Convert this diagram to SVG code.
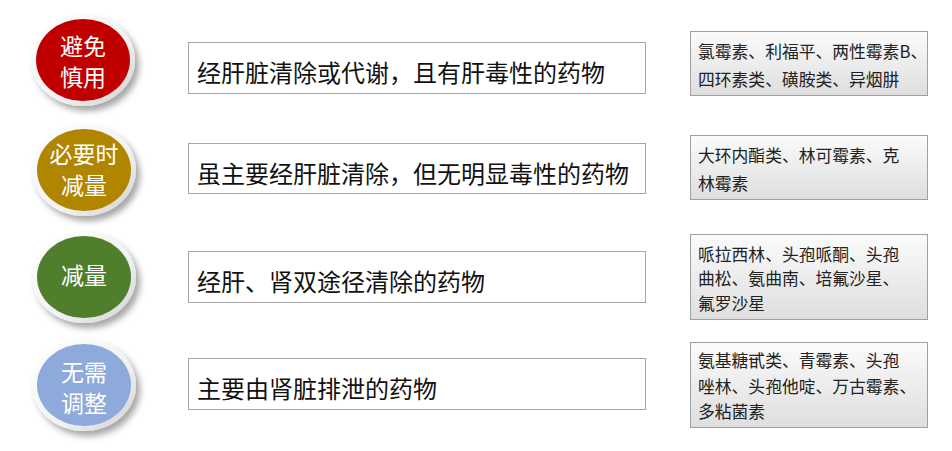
<svg xmlns="http://www.w3.org/2000/svg" width="952" height="451" viewBox="0 0 952 451">
<style>
.ct{font-family:"Noto Sans CJK SC","Noto Sans",sans-serif;font-size:23px;fill:#fff;text-anchor:middle;dominant-baseline:central}
.mb{fill:#fff;stroke:#a6a6a6;stroke-width:1}
.mt{font-family:"Noto Sans CJK SC","Noto Sans",sans-serif;font-size:24px;fill:#111;dominant-baseline:central}
.rb{fill:url(#rg);stroke:#a0a0a0;stroke-width:1}
.rt{font-family:"Noto Sans CJK SC","Noto Sans",sans-serif;font-size:16.8px;fill:#222;dominant-baseline:central}
.ring{fill:url(#ringg);filter:url(#sh)}
</style>
<defs>
<linearGradient id="rg" x1="0" y1="0" x2="0" y2="1"><stop offset="0" stop-color="#fbfbfb"/><stop offset="1" stop-color="#dedede"/></linearGradient>
<linearGradient id="ringg" x1="0" y1="0" x2="1" y2="1"><stop offset="0" stop-color="#ffffff"/><stop offset="0.6" stop-color="#f2f2f2"/><stop offset="1" stop-color="#d0d0d0"/></linearGradient>
<filter id="sh" x="-30%" y="-30%" width="170%" height="170%"><feDropShadow dx="4" dy="5" stdDeviation="3" flood-color="#000" flood-opacity="0.35"/></filter>
</defs>
<g id="n1">
<ellipse class="ring" cx="83" cy="60" rx="52" ry="46"/>
<ellipse cx="83" cy="60" rx="47" ry="41" fill="#c00000"/>
<text class="ct" x="83" y="45">避免</text>
<text class="ct" x="83" y="76">慎用</text>
</g>
<g id="n2">
<ellipse class="ring" cx="84" cy="170" rx="52" ry="46"/>
<ellipse cx="84" cy="170" rx="47" ry="41" fill="#b08500"/>
<text class="ct" x="84" y="153">必要时</text>
<text class="ct" x="84" y="184">减量</text>
</g>
<g id="n3">
<ellipse class="ring" cx="84" cy="277" rx="52" ry="46"/>
<ellipse cx="84" cy="277" rx="47" ry="41" fill="#4f7f2d"/>
<text class="ct" x="84" y="274">减量</text>
</g>
<g id="n4">
<ellipse class="ring" cx="84" cy="385" rx="52" ry="46"/>
<ellipse cx="84" cy="385" rx="47" ry="41" fill="#8eaadb"/>
<text class="ct" x="84" y="371">无需</text>
<text class="ct" x="84" y="402">调整</text>
</g>
<g id="m1"><rect class="mb" x="188.5" y="42.5" width="457" height="51"/><text class="mt" x="197" y="71">经肝脏清除或代谢，且有肝毒性的药物</text></g>
<g id="m2"><rect class="mb" x="188.5" y="143.5" width="457" height="50"/><text class="mt" x="197" y="172">虽主要经肝脏清除，但无明显毒性的药物</text></g>
<g id="m3"><rect class="mb" x="188.5" y="251.5" width="457" height="51"/><text class="mt" x="197" y="280">经肝、肾双途径清除的药物</text></g>
<g id="m4"><rect class="mb" x="188.5" y="358.5" width="457" height="51"/><text class="mt" x="197" y="387">主要由肾脏排泄的药物</text></g>
<g id="r1"><rect class="rb" x="690.5" y="31.5" width="237" height="64"/>
<text class="rt" x="698" y="51">氯霉素、利福平、两性霉素B、</text>
<text class="rt" x="698" y="79">四环素类、磺胺类、异烟肼</text></g>
<g id="r2"><rect class="rb" x="690.5" y="135.5" width="237" height="64"/>
<text class="rt" x="698" y="155">大环内酯类、林可霉素、克</text>
<text class="rt" x="698" y="183">林霉素</text></g>
<g id="r3"><rect class="rb" x="690.5" y="234.5" width="237" height="85"/>
<text class="rt" x="698" y="254">哌拉西林、头孢哌酮、头孢</text>
<text class="rt" x="698" y="278">曲松、氨曲南、培氟沙星、</text>
<text class="rt" x="698" y="303">氟罗沙星</text></g>
<g id="r4"><rect class="rb" x="690.5" y="342.5" width="237" height="85"/>
<text class="rt" x="698" y="360">氨基糖甙类、青霉素、头孢</text>
<text class="rt" x="698" y="386">唑林、头孢他啶、万古霉素、</text>
<text class="rt" x="698" y="411">多粘菌素</text></g>
<g id="connectors"></g>
</svg>
